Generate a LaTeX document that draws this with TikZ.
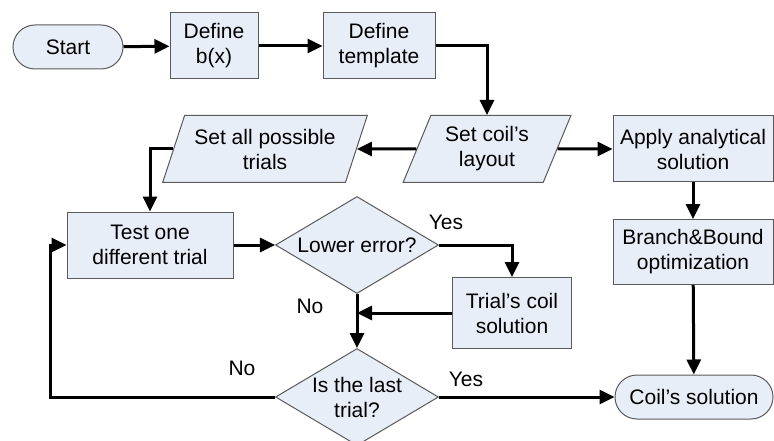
\documentclass[tikz,border=0pt]{standalone}
\usepackage{fontspec}
\setmainfont{Liberation Sans}
\usetikzlibrary{arrows.meta,shapes.geometric,positioning,calc}

\definecolor{boxfill}{RGB}{232,238,248}
\definecolor{boxline}{RGB}{90,90,90}

\begin{document}
\begin{tikzpicture}[x=1pt,y=-1pt,
  font=\fontsize{21}{25}\selectfont,
  base/.style={draw=boxline, line width=1pt, fill=boxfill, align=center, inner sep=2pt},
  term/.style={base, rounded corners=22pt, minimum height=44pt},
  proc/.style={base, minimum height=66pt},
  io/.style={base, trapezium, trapezium left angle=66, trapezium right angle=114,
    trapezium stretches=true, minimum height=67pt},
  dec/.style={base, diamond, aspect=1.68, inner sep=0pt, minimum width=163pt, minimum height=97pt},
  flow/.style={line width=3pt, -{Triangle[length=15pt,width=14pt]}},
  lbl/.style={inner sep=0pt}]
\useasboundingbox (0,0) rectangle (774,441);
% Top row
\node[term, minimum width=110pt] (start) at (68,47) {Start};
\node[proc, minimum width=88pt] (defb) at (214,46) {Define\\b(x)};
\node[proc, minimum width=112pt] (deftpl) at (379,46) {Define\\template};
% Layout row
\node[io, minimum width=168pt] (setcoil) at (487,149) {Set coil's\\layout};
\node[io, minimum width=205pt] (setall) at (265,149) {Set all possible\\trials};
\node[proc, minimum width=160pt] (apply) at (693,149) {Apply analytical\\solution};
\node[proc, minimum width=160pt, minimum height=65pt] (bb) at (693,252) {Branch\&Bound\\optimization};
% Trial loop
\node[proc, minimum width=166pt] (test) at (150,245) {Test one\\different trial};
\node[dec] (lower) at (357,245) {Lower error?};
\node[proc, minimum width=119pt, minimum height=71pt] (trial) at (512,313) {Trial's coil\\solution};
\node[dec, aspect=1.8] (last) at (357,397) {Is the last\\trial?};
\node[term, minimum width=158pt] (coilsol) at (694,397) {Coil's solution};
% Branch labels
\node[lbl] (yes1) at (446,222) {Yes};
\node[lbl] (no1) at (310,306) {No};
\node[lbl] (no2) at (242,368) {No};
\node[lbl] (yes2) at (466,379) {Yes};
% Connectors
\draw[flow] (start) -- (defb);
\draw[flow] (defb) -- (deftpl);
\draw[flow] (deftpl.east) -| (setcoil.north);
\draw[flow] (setcoil) -- (setall);
\draw[flow] (setcoil) -- (apply);
\draw[flow] (setall.west) -| (test.north);
\draw[flow] (apply) -- (bb);
\draw[flow] (bb) -- (coilsol);
\draw[flow] (test) -- (lower);
\draw[flow] (lower.east) -| (trial.north);
\coordinate (merge) at (lower.south |- trial.west);
\draw[flow] (trial.west) -- (merge);
\draw[flow] (lower) -- (last);
\coordinate (back) at (50,397);
\draw[flow] (last.west) -- (back) |- (test.west);
\draw[flow] (last) -- (coilsol);
\end{tikzpicture}
\end{document}
